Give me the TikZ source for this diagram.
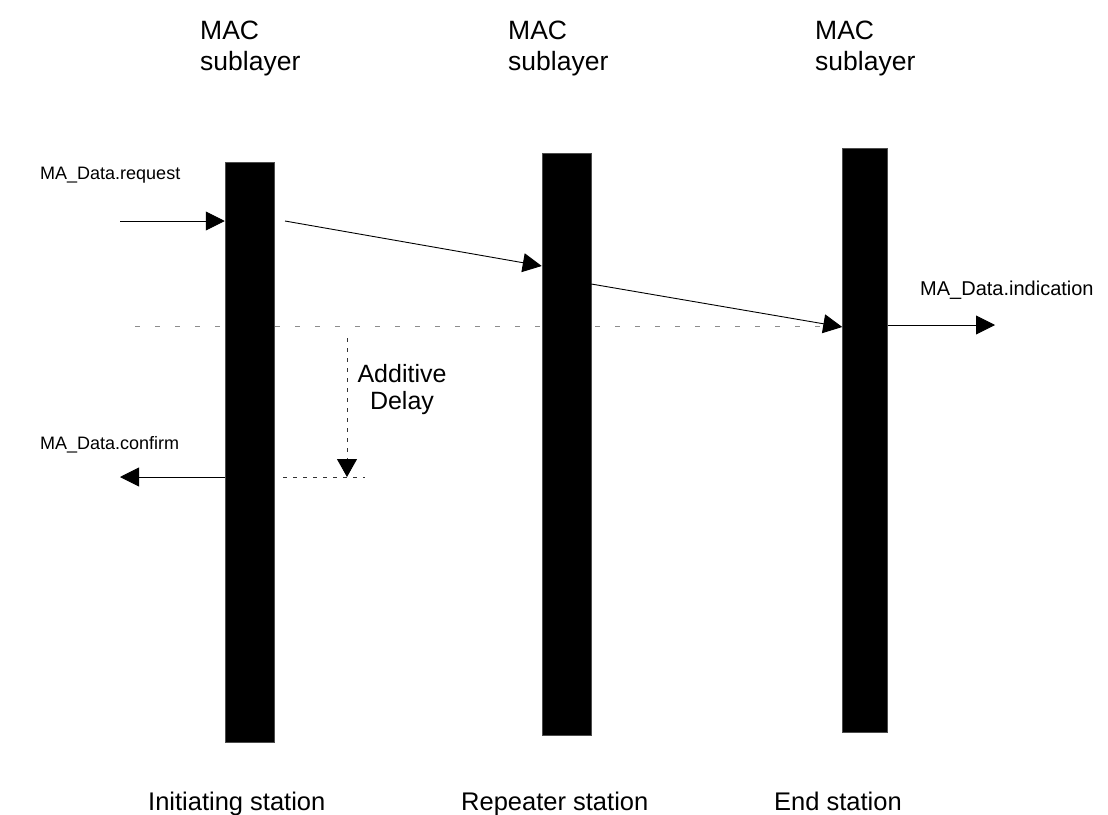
\documentclass[tikz,border=0pt]{standalone}
\usepackage{fontspec}
\setmainfont{Liberation Sans}
\usetikzlibrary{arrows.meta}
\begin{document}
\begin{tikzpicture}[x=1pt,y=-1pt,
  bar/.style={draw=black!70,fill=black,line width=0.5pt,inner sep=0pt,minimum width=49pt},
  msg/.style={line width=0.9pt,-{Triangle[length=19pt,width=19pt]}},
  head/.style={inner sep=0pt,anchor=north west,align=left,font=\fontsize{26.5}{31}\selectfont},
  small/.style={inner sep=0pt,anchor=base west,font=\fontsize{18}{22}\selectfont},
  station/.style={inner sep=0pt,anchor=base west,font=\fontsize{25.5}{30}\selectfont},
  grid/.style={draw=black!45,line width=1pt,dash pattern=on 5pt off 15pt},
  delay/.style={draw=black!80,line width=0.9pt,dash pattern=on 4pt off 6pt}
]
\useasboundingbox (0,0) rectangle (1108,814);
% dotted time reference line
\draw[grid] (135,326) -- (843,326);
% bars
\node[bar,minimum height=580pt] (b1) at (249.5,452) {};
\node[bar,minimum height=582pt] (b2) at (566.5,444) {};
\node[bar,minimum height=584pt,minimum width=45pt] (b3) at (865,440) {};
% headings
\node[head] (h1) at (200,21) {MAC\\sublayer};
\node[head] (h2) at (508,21) {MAC\\sublayer};
\node[head] (h3) at (815,21) {MAC\\sublayer};
% station labels
\node[station] (s1) at (148,810) {Initiating station};
\node[station] (s2) at (461,810) {Repeater station};
\node[station] (s3) at (774,810) {End station};
% primitives
\node[small] (req) at (40,179) {MA\_Data.request};
\node[small] (conf) at (40,449) {MA\_Data.confirm};
\node[small,font=\fontsize{20}{22}\selectfont] (ind) at (920,295) {MA\_Data.indication};
% additive delay
\node[inner sep=0pt,anchor=north,align=center,font=\fontsize{25}{27}\selectfont] (ad) at (402,364) {Additive\\Delay};
% connectors
\coordinate (reqL) at (120,221);
\draw[msg] (reqL) -- (b1.west |- reqL);
\coordinate (d1s) at (285,221);
\coordinate (d1e) at (542,266);
\draw[msg] (d1s) -- (b2.west |- d1e);
\coordinate (d2s) at (591,284);
\coordinate (d2e) at (843,327);
\draw[msg] (b2.east |- d2s) -- (b3.west |- d2e);
\coordinate (indR) at (995,325);
\draw[msg] (b3.east |- indR) -- (indR);
\coordinate (confL) at (120,477);
\draw[msg] (b1.west |- confL) -- (confL);
\coordinate (dtop) at (347,338);
\coordinate (dbot) at (347,477);
\coordinate (dl) at (283,477);
\coordinate (dr) at (365,477);
\draw[delay] (dl) -- (dr);
\draw[delay,-{Triangle[length=18pt,width=20pt,color=black]}] (dtop) -- (dbot);
\end{tikzpicture}
\end{document}
